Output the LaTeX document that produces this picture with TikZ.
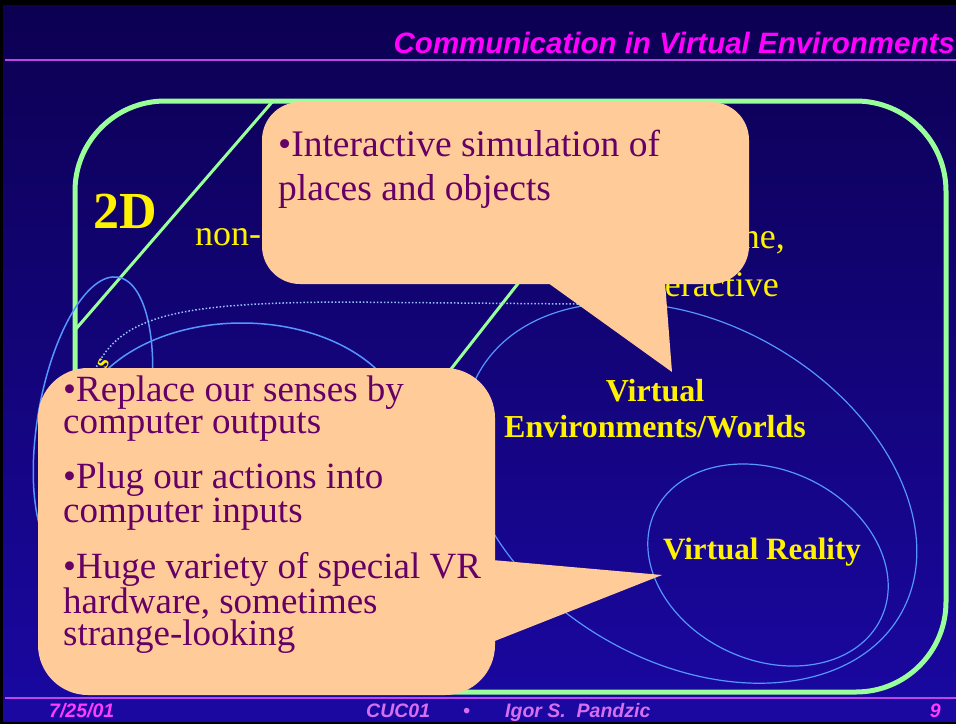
\documentclass[tikz,border=0pt]{standalone}
\usepackage{fontspec}
\setmainfont{Liberation Serif}
\setsansfont{Liberation Sans}
\usetikzlibrary{positioning}
\definecolor{bgtop}{RGB}{12,0,82}
\definecolor{bgbot}{RGB}{26,8,162}
\definecolor{setgreen}{RGB}{153,255,153}
\definecolor{setblue}{RGB}{85,150,255}
\definecolor{peach}{RGB}{255,204,153}
\definecolor{plum}{RGB}{102,0,102}
\definecolor{titlemag}{RGB}{255,0,255}
\definecolor{footmag}{RGB}{255,60,255}
\definecolor{footviolet}{RGB}{215,110,240}
\definecolor{ruleviolet}{RGB}{190,70,230}
\tikzset{
  bubble/.style={fill=peach, draw=none, rounded corners=#1, inner sep=0pt},
  bubbletext/.style={text=plum, align=left, inner sep=0pt, anchor=base west},
  setline/.style={draw=setblue, line width=1.5pt},
  yellowtext/.style={text=yellow, inner sep=0pt},
  footer/.style={font=\sffamily\bfseries\itshape\fontsize{19.5}{21}\selectfont, inner sep=0pt, anchor=base west}
}
\begin{document}
\begin{tikzpicture}[x=1pt,y=-1pt]
  \useasboundingbox (0,0) rectangle (956,724);
  % slide background
  \fill[black] (0,0) rectangle (956,724);
  \shade[top color=bgtop, bottom color=bgbot] (3,5) rectangle (956,721);
  \draw[ruleviolet, line width=2pt] (5,60) -- (956,60);
  \draw[ruleviolet, line width=2pt] (5,698) -- (956,698);
  \node[anchor=base east, inner sep=0pt, text=titlemag,
    font=\sffamily\bfseries\itshape\fontsize{29.5}{32}\selectfont] (title) at (955,53)
    {Communication in Virtual Environments};

  % outer set and the 2D band
  \draw[setgreen, line width=5pt, rounded corners=90] (75,101) rectangle (946,692);
  \draw[setgreen, line width=3pt] (273,101) -- (75,330);
  \draw[setgreen, line width=3pt] (661,101) -- (198,692);

  % nested sets
  \draw[setline] (93,420) ellipse [x radius=55, y radius=145, rotate=-10];
  \draw[setline] (242,433) ellipse [x radius=165, y radius=110];
  \draw[draw=setblue!60!white, line width=1.5pt, dotted]
    (95,370) .. controls (120,315) and (180,303) .. (340,302) -- (578,304);
  \draw[setline, line width=1.2pt] (690,493) ellipse [x radius=243, y radius=169, rotate=-30];
  \draw[setline, line width=1.2pt] (768,565) ellipse [x radius=125, y radius=95, rotate=-25];

  % labels
  \node[yellowtext, anchor=base west, font=\bfseries\fontsize{52}{56}\selectfont] (twod) at (93,228) {2D};
  \node[yellowtext, anchor=base west, font=\fontsize{36}{40}\selectfont] (nonl) at (195,245) {non-};
  \node[yellowtext, anchor=base east, font=\fontsize{36}{40}\selectfont] (nel) at (785,248) {ne,};
  \node[yellowtext, anchor=base east, font=\fontsize{36}{40}\selectfont] (eract) at (779,296) {eractive};
  \node[yellowtext, anchor=base west, rotate=65, font=\bfseries\fontsize{22}{24}\selectfont] (sl) at (106,370) {s};
  \node[yellowtext, align=center, font=\bfseries\fontsize{32}{36}\selectfont] (vew) at (655,409)
    {Virtual\\Environments/Worlds};
  \node[yellowtext, font=\bfseries\fontsize{31}{34}\selectfont] (vr) at (762,552) {Virtual Reality};

  % upper callout
  \node[bubble=38, minimum width=487, minimum height=182] (simbox) at (505.5,193) {};
  \coordinate (simtip) at (672,372);
  \fill[peach] ([xshift=41.5pt,yshift=2pt]simbox.south) -- (simtip)
    -- ([xshift=159.5pt,yshift=2pt]simbox.south) -- cycle;
  \node[bubbletext, font=\fontsize{37.5}{44}\selectfont] (simtext) at (278,200)
    {•Interactive simulation of\\places and objects};

  % lower callout
  \node[bubble=50, minimum width=457, minimum height=327] (hwbox) at (266.5,531.5) {};
  \coordinate (hwtip) at (662,575);
  \fill[peach] ([xshift=-3pt,yshift=-28.5pt]hwbox.east) -- (hwtip)
    -- ([xshift=-3pt,yshift=-110.5pt]hwbox.east) -- cycle;
  \node[bubbletext, font=\fontsize{37}{32}\selectfont] (hwtext) at (63,645)
    {•Replace our senses by\\computer outputs\\[21pt]•Plug our actions into\\computer inputs\\[21pt]%
     •Huge variety of special VR\\hardware, sometimes\\strange-looking};

  % footer
  \node[footer, text=footmag] (date) at (49,717) {7/25/01};
  \node[footer, text=footviolet] (conf) at (366,717) {CUC01};
  \node[footer, text=footviolet] (dot) at (463,717) {•};
  \node[footer, text=footviolet] (author) at (505,717) {Igor S.\ \ Pandzic};
  \node[footer, text=footmag, anchor=base east] (page) at (941,717) {9};
\end{tikzpicture}
\end{document}
